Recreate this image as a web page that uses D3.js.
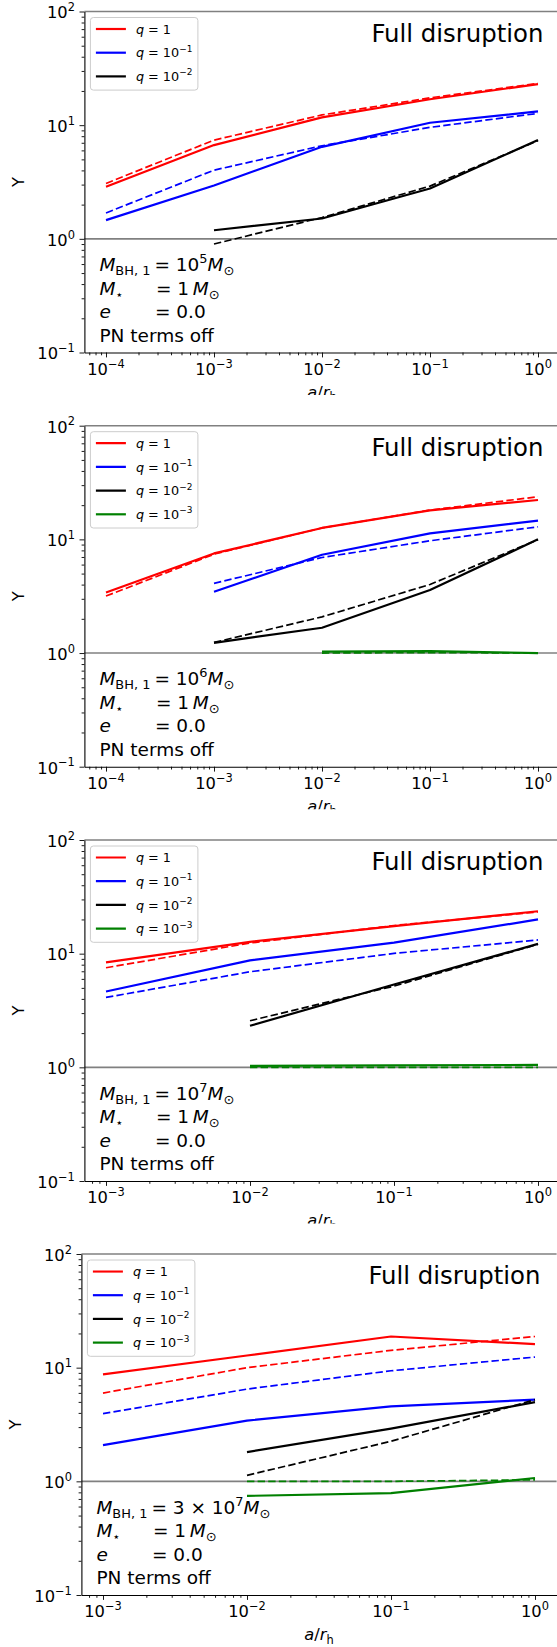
<!DOCTYPE html>
<html>
<head>
<meta charset="utf-8">
<script src="https://cdn.jsdelivr.net/npm/d3@7"></script>
<style>
  html, body { margin: 0; padding: 0; background: #fff; }
  svg { display: block; }
  text { font-family: "DejaVu Sans", sans-serif; fill: #000; }
</style>
</head>
<body>
<div id="chart"></div>
<script>
// ---------------- DATA ----------------
const xPanelA = [1e-4, 1e-3, 1e-2, 1e-1, 1];   // panels 1-2
const xPanelB = [1e-3, 1e-2, 1e-1, 1];         // panels 3-4
const xTicksA = [-4, -3, -2, -1, 0];           // exponents
const xTicksB = [-3, -2, -1, 0];
const yTicks = [-1, 0, 1, 2];
const qLabels = ["1", "10^-1", "10^-2", "10^-3"];
const qColors = ["#ff0000", "#0000ff", "#000000", "#008000"];
const massLabels = ["10^5", "10^6", "10^7", "3 × 10^7"];
const titleText = "Full disruption";

// Panel 1: M_BH = 1e5
const p1_q1_solid   = [2.87, 6.68, 11.7, 16.9, 23.0];
const p1_q1_dashed  = [3.07, 7.39, 12.3, 17.4, 23.3];
const p1_q01_solid  = [1.46, 2.95, 6.45, 10.5, 13.2];
const p1_q01_dashed = [1.69, 4.02, 6.59, 9.57, 12.7];
const p1_q001_solid = [null, 1.19, 1.51, 2.77, 7.39];
const p1_q001_dashed= [null, 0.90, 1.54, 2.91, 7.30];

// Panel 2: M_BH = 1e6
const p2_q1_solid   = [3.41, 7.52, 12.6, 18.0, 22.2];
const p2_q1_dashed  = [3.17, 7.40, 12.6, 18.1, 23.7];
const p2_q01_solid  = [null, 3.46, 7.32, 11.3, 14.6];
const p2_q01_dashed = [null, 4.10, 6.93, 9.72, 12.9];
const p2_q001_solid = [null, 1.23, 1.67, 3.58, 10.0];
const p2_q001_dashed= [null, 1.24, 2.08, 4.01, 9.93];
const p2_q0001_solid= [null, null, 1.03, 1.04, 1.00];
const p2_q0001_dashed=[null, null, 1.00, 1.01, 1.00];

// Panel 3: M_BH = 1e7
const p3_q1_solid   = [8.38, 12.7, 17.5, 23.6];
const p3_q1_dashed  = [7.52, 12.4, 17.7, 23.3];
const p3_q01_solid  = [4.65, 8.73, 12.5, 20.0];
const p3_q01_dashed = [4.12, 6.93, 10.05, 13.2];
const p3_q001_solid = [null, 2.32, 5.36, 12.2];
const p3_q001_dashed= [null, 2.57, 5.18, 12.1];
const p3_q0001_solid= [null, 1.03, 1.04, 1.05];
const p3_q0001_dashed=[null, 1.00, 1.00, 1.00];

// Panel 4: M_BH = 3e7
const p4_q1_solid   = [8.72, 12.8, 18.8, 16.1];
const p4_q1_dashed  = [5.98, 10.0, 14.2, 18.8];
const p4_q01_solid  = [2.08, 3.42, 4.57, 5.23];
const p4_q01_dashed = [3.94, 6.48, 9.39, 12.4];
const p4_q001_solid = [null, 1.81, 2.91, 4.98];
const p4_q001_dashed= [null, 1.13, 2.25, 5.23];
const p4_q0001_solid= [null, 0.745, 0.787, 1.07];
const p4_q0001_dashed=[null, 1.00, 1.00, 1.03];

const panels = [
  { xs: xPanelA, ticks: xTicksA, mass: massLabels[0],
    series: [[p1_q1_solid, p1_q1_dashed], [p1_q01_solid, p1_q01_dashed], [p1_q001_solid, p1_q001_dashed]] },
  { xs: xPanelA, ticks: xTicksA, mass: massLabels[1],
    series: [[p2_q1_solid, p2_q1_dashed], [p2_q01_solid, p2_q01_dashed], [p2_q001_solid, p2_q001_dashed], [p2_q0001_solid, p2_q0001_dashed]] },
  { xs: xPanelB, ticks: xTicksB, mass: massLabels[2],
    series: [[p3_q1_solid, p3_q1_dashed], [p3_q01_solid, p3_q01_dashed], [p3_q001_solid, p3_q001_dashed], [p3_q0001_solid, p3_q0001_dashed]] },
  { xs: xPanelB, ticks: xTicksB, mass: massLabels[3],
    series: [[p4_q1_solid, p4_q1_dashed], [p4_q01_solid, p4_q01_dashed], [p4_q001_solid, p4_q001_dashed], [p4_q0001_solid, p4_q0001_dashed]] },
];

// ---------------- LAYOUT ----------------
const W = 557, H = 1647;
const panelTops = [11.5, 425.7, 840, 1254];
const panelX0 = [84.4, 84.4, 84.4, 81.4];
const axW = 475.2, axH = 341;
const tickFS = 16.3, annFS = 18.5, titleFS = 24.4, legFS = 12.8;

const svg = d3.select("#chart").append("svg")
  .attr("width", W).attr("height", H).attr("viewBox", `0 0 ${W} ${H}`);
const defs = svg.append("defs");

// mathtext-like rich text
function rich(sel, parts, size) {
  let cur = 0;
  parts.forEach(p => {
    const [t, mode] = p;
    let fs = size, off = 0, it = false;
    if (mode === "i") it = true;
    if (mode === "sup") { fs = size * 0.7; off = -size * 0.43; }
    if (mode === "sub") { fs = size * 0.7; off = size * 0.22; }
    const ts = sel.append("tspan").text(t).attr("font-size", fs + "px")
      .attr("dy", off - cur);
    if (it) ts.attr("font-style", "italic");
    cur = off;
  });
}
function powParts(str) {
  const m = str.split("^");
  const parts = [[m[0], "r"]];
  if (m.length > 1) parts.push([m[1].replace("-", "\u2212"), "sup"]);
  return parts;
}

panels.forEach((P, i) => {
  const top = panelTops[i], x0 = panelX0[i];
  const bottom = top + axH;
  const lo = P.xs.length === 5 ? -4.2 : -3.15;
  const hi = P.xs.length === 5 ? 0.2 : 0.15;
  const x = d3.scaleLog().domain([Math.pow(10, lo), Math.pow(10, hi)]).range([x0, x0 + axW]);
  const y = d3.scaleLog().domain([0.1, 100]).range([bottom, top]);

  const last = i === panels.length - 1;
  defs.append("clipPath").attr("id", "clip" + i).append("rect")
    .attr("x", 0).attr("y", top - 11.5).attr("width", W).attr("height", last ? H : 395);
  defs.append("clipPath").attr("id", "plot" + i).append("rect")
    .attr("x", x0).attr("y", top).attr("width", axW).attr("height", axH);

  const g = svg.append("g").attr("clip-path", `url(#clip${i})`);

  // reference lines (gray)
  g.append("line").attr("x1", x0).attr("x2", x0 + axW)
    .attr("y1", y(1)).attr("y2", y(1)).attr("stroke", "#808080").attr("stroke-width", 1.6);
  g.append("line").attr("x1", x0).attr("x2", x0 + axW)
    .attr("y1", y(100)).attr("y2", y(100)).attr("stroke", "#808080").attr("stroke-width", 1.6);

  // data lines
  const pg = g.append("g").attr("clip-path", `url(#plot${i})`);
  const line = d3.line().defined(d => d[1] != null).x(d => x(d[0])).y(d => y(d[1]));
  P.series.forEach((pair, k) => {
    const [solid, dashed] = pair;
    pg.append("path").datum(P.xs.map((xv, j) => [xv, solid[j]]))
      .attr("d", line).attr("fill", "none").attr("stroke", qColors[k])
      .attr("stroke-width", 2.2).attr("stroke-linejoin", "round");
    pg.append("path").datum(P.xs.map((xv, j) => [xv, dashed[j]]))
      .attr("d", line).attr("fill", "none").attr("stroke", qColors[k])
      .attr("stroke-width", 1.7).attr("stroke-dasharray", "7.4,3.2");
  });

  // axes
  const xMajor = P.ticks.map(e => Math.pow(10, e));
  const xMinor = [];
  for (let e = Math.floor(lo); e <= Math.ceil(hi); e++)
    for (let m = 2; m <= 9; m++) {
      const v = m * Math.pow(10, e);
      if (Math.log10(v) >= lo && Math.log10(v) <= hi) xMinor.push(v);
    }
  const yMajor = yTicks.map(e => Math.pow(10, e));
  const yMinor = [];
  for (let e = -1; e < 2; e++) for (let m = 2; m <= 9; m++) yMinor.push(m * Math.pow(10, e));

  g.append("g").attr("transform", `translate(0,${bottom})`)
    .call(d3.axisBottom(x).tickValues(xMajor).tickSize(4.9).tickSizeOuter(0).tickFormat(""));
  g.append("g").attr("transform", `translate(0,${bottom})`)
    .call(d3.axisBottom(x).tickValues(xMinor).tickSize(2.8).tickSizeOuter(0).tickFormat(""))
    .select(".domain").remove();
  g.append("g").attr("transform", `translate(${x0},0)`)
    .call(d3.axisLeft(y).tickValues(yMajor).tickSize(4.9).tickSizeOuter(0).tickFormat(""));
  g.append("g").attr("transform", `translate(${x0},0)`)
    .call(d3.axisLeft(y).tickValues(yMinor).tickSize(2.8).tickSizeOuter(0).tickFormat(""))
    .select(".domain").remove();
  g.selectAll(".domain").attr("stroke", "#000").attr("stroke-width", 1.1);
  g.selectAll(".tick line").attr("stroke", "#000").attr("stroke-width", 0.9);
  g.selectAll(".tick text").remove();

  // tick labels
  P.ticks.forEach(e => {
    const t = g.append("text").attr("x", x(Math.pow(10, e))).attr("y", bottom + 22.3)
      .attr("text-anchor", "middle").attr("font-size", tickFS + "px");
    rich(t, powParts("10^" + e), tickFS);
  });
  yTicks.forEach(e => {
    const t = g.append("text").attr("x", x0 - 9.5).attr("y", y(Math.pow(10, e)) + 6.8)
      .attr("text-anchor", "end").attr("font-size", tickFS + "px");
    rich(t, powParts("10^" + e), tickFS);
  });

  // axis labels
  g.append("text").attr("transform", `translate(${x0 - 66},${(top + bottom) / 2}) rotate(-90)`)
    .attr("text-anchor", "middle").attr("dy", "0.36em").attr("font-size", tickFS + "px").text("Y");
  const xl = g.append("text").attr("x", x0 + axW / 2).attr("y", bottom + 45)
    .attr("text-anchor", "middle").attr("font-size", tickFS + "px");
  rich(xl, [["a", "i"], ["/", "r"], ["r", "i"], ["h", "sub"]], tickFS);

  // title
  g.append("text").attr("x", x0 + 459.1).attr("y", top + 30.2)
    .attr("text-anchor", "end").attr("font-size", titleFS + "px").text(titleText);

  // annotation
  const ax = x0 + 15, eqx = x0 + 70;
  const rows = [top + 259.5, top + 283, top + 306.7, top + 330.3];
  const t1 = g.append("text").attr("x", ax).attr("y", rows[0]).attr("font-size", annFS + "px");
  rich(t1, [["M", "i"], ["BH, 1", "sub"]], annFS);
  const t1r = g.append("text").attr("x", eqx).attr("y", rows[0]).attr("font-size", annFS + "px");
  const mparts = P.mass.split("^");
  rich(t1r, [["= " + mparts[0], "r"], [mparts[1], "sup"], ["M", "i"], ["\u2299", "sub"]], annFS);
  const t2 = g.append("text").attr("x", ax).attr("y", rows[1]).attr("font-size", annFS + "px");
  rich(t2, [["M", "i"], ["\u22c6", "sub"]], annFS);
  const t2r = g.append("text").attr("x", eqx + 1.5).attr("y", rows[1]).attr("font-size", annFS + "px");
  rich(t2r, [["= 1\u2009", "r"], ["M", "i"], ["\u2299", "sub"]], annFS);
  g.append("text").attr("x", ax).attr("y", rows[2]).attr("font-size", annFS + "px")
    .attr("font-style", "italic").text("e");
  g.append("text").attr("x", eqx + 0.5).attr("y", rows[2]).attr("font-size", annFS + "px").text("= 0.0");
  g.append("text").attr("x", ax).attr("y", rows[3]).attr("font-size", annFS + "px").text("PN terms off");

  // legend
  const nL = P.series.length;
  const lg = g.append("g");
  lg.append("rect").attr("x", x0 + 6).attr("y", top + 6).attr("width", 107.5)
    .attr("height", 23.7 * nL + 1.5).attr("rx", 3)
    .attr("fill", "#fff").attr("fill-opacity", 0.8).attr("stroke", "#cccccc").attr("stroke-width", 1);
  for (let k = 0; k < nL; k++) {
    const cy = top + 17.5 + 23.7 * k;
    lg.append("line").attr("x1", x0 + 11.5).attr("x2", x0 + 41.5).attr("y1", cy).attr("y2", cy)
      .attr("stroke", qColors[k]).attr("stroke-width", 2.2);
    const lt = lg.append("text").attr("x", x0 + 51.5).attr("y", cy + 4.6).attr("font-size", legFS + "px");
    const qp = qLabels[k].split("^");
    const parts = [["q", "i"], [" = " + qp[0], "r"]];
    if (qp[1]) parts.push([qp[1].replace("-", "\u2212"), "sup"]);
    rich(lt, parts, legFS);
  }
});
</script>
</body>
</html>
